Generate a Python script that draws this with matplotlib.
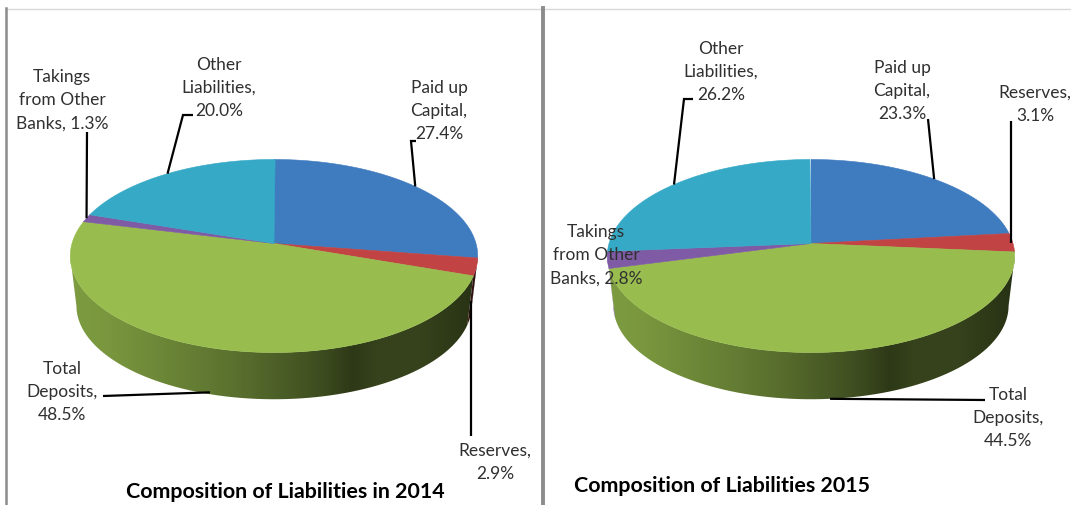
import numpy as np
from matplotlib import pyplot as plt
from matplotlib.patches import Polygon

plt.rcParams['font.family'] = ['Lato', 'DejaVu Sans']

categories = ["Paid up Capital", "Reserves", "Total Deposits", "Takings from Other Banks", "Other Liabilities"]
values_2014 = [27.4, 2.9, 48.5, 1.3, 20.0]
values_2015 = [23.3, 3.1, 44.5, 2.8, 26.2]
title_2014 = "Composition of Liabilities in 2014"
title_2015 = "Composition of Liabilities 2015"

colors = ["#3F7BBF", "#C24343", "#98BD4E", "#7F5BA6", "#35A9C6"]
# shading of the pie wall, left to right
shade_pos = [0.0, 0.09, 0.32, 0.42, 0.51, 0.62, 0.69, 0.75, 0.86, 1.0]
shade_val = [0.82, 0.80, 0.65, 0.58, 0.50, 0.40, 0.30, 0.35, 0.35, 0.26]

CY = 244.5
B = 202.0
A = 94.9
K = 0.1295
DEPTH = 50
SHRINK = 0.97
VIS_LO, VIS_HI = 97.5, 262.5


def project(cx, deg, scale=1.0, depth=0):
    # deg is clockwise from 12 o'clock
    t = np.radians(90 - np.asarray(deg, dtype=float))
    c, s = np.cos(t), np.sin(t)
    x = cx + scale * B * c / (1 + K * s)
    y = CY - scale * A * s / (1 + K * s) + depth
    return x, y


def draw_pie(ax, cx, values):
    edges = np.cumsum([0] + list(values)) * 3.6
    left, right = cx - 204, cx + 205
    xs = np.linspace(left, right, 500)
    shade = np.interp((xs - left) / (right - left), shade_pos, shade_val)
    # wall
    for i, col in enumerate(colors):
        lo, hi = max(edges[i], VIS_LO), min(edges[i + 1], VIS_HI)
        if hi <= lo:
            continue
        a = np.linspace(lo, hi, 80)
        x1, y1 = project(cx, a)
        x2, y2 = project(cx, a[::-1], SHRINK, DEPTH)
        poly = Polygon(np.column_stack([np.r_[x1, x2], np.r_[y1, y2]]), closed=True,
                       facecolor='none', edgecolor='none', transform=ax.transData)
        ax.add_patch(poly)
        rgb = np.array(plt.matplotlib.colors.to_rgb(col))
        img = np.outer(shade, rgb).reshape(1, len(xs), 3)
        im = ax.imshow(img, extent=(left, right, 420, 230), aspect='auto', zorder=2, interpolation='bilinear')
        im.set_clip_path(poly)
    # top
    for i, col in enumerate(colors):
        a = np.linspace(edges[i], edges[i + 1], 120)
        x, y = project(cx, a)
        pts = np.column_stack([np.r_[cx, x], np.r_[CY, y]])
        ax.add_patch(Polygon(pts, closed=True, facecolor=col, edgecolor=col, lw=0.4, zorder=3))
    return (edges[:-1] + edges[1:]) / 2


def leader(ax, xs, ys):
    ax.plot(xs, ys, color='black', lw=1.6, zorder=4, solid_capstyle='butt', solid_joinstyle='miter')


fig = plt.figure(figsize=(10.71, 5.06), dpi=100)
ax = fig.add_axes([0, 0, 1, 1])

mid14 = draw_pie(ax, 274, values_2014)
mid15 = draw_pie(ax, 811, values_2015)

# frame lines
ax.plot([6, 1071], [9.5, 9.5], color='#d9d9d9', lw=1.0, zorder=1)
ax.plot([6, 6], [9, 506], color='#8c8c8c', lw=1.8, zorder=1)
ax.plot([543, 543], [9, 506], color='#8c8c8c', lw=2.8, zorder=1)

# leaders 2014
x, y = project(274, mid14[0]); leader(ax, [x, 411, 416], [y, 142, 142])
x, y = project(274, mid14[1], SHRINK, DEPTH * 0.7); leader(ax, [471, 471], [y, 437])
x, y = project(274, mid14[2], SHRINK, DEPTH); leader(ax, [x - 1, 103], [y - 2, 397])
x, y = project(274, mid14[3]); leader(ax, [x, 87], [y, 133])
x, y = project(274, mid14[4]); leader(ax, [x, 183, 193], [y, 116, 116])
# leaders 2015
x, y = project(811, mid15[0]); leader(ax, [x, 928], [y, 120])
x, y = project(811, mid15[1]); leader(ax, [1011, 1011], [y, 122])
x, y = project(811, mid15[2], SHRINK, DEPTH); leader(ax, [x, 985], [y, 401])
x, y = project(811, mid15[4]); leader(ax, [x, 684, 693], [y, 100, 100])

labels = [
    (219, 88, "Other\nLiabilities,\n20.0%"),
    (62, 100, "Takings\nfrom Other\nBanks, 1.3%"),
    (439, 111, "Paid up\nCapital,\n27.4%"),
    (495, 462, "Reserves,\n2.9%"),
    (62, 392, "Total\nDeposits,\n48.5%"),
    (721, 72, "Other\nLiabilities,\n26.2%"),
    (902, 91, "Paid up\nCapital,\n23.3%"),
    (1035, 104, "Reserves,\n3.1%"),
    (596, 255, "Takings\nfrom Other\nBanks, 2.8%"),
    (1008, 418, "Total\nDeposits,\n44.5%"),
]
for lx, ly, txt in labels:
    ax.text(lx, ly, txt, ha='center', va='center', fontsize=12.5, color='#303030',
            linespacing=1.55, zorder=5)

ax.text(285, 492, title_2014, ha='center', va='center', fontsize=15.4, fontweight='bold', color='black', zorder=5)
ax.text(722, 486, title_2015, ha='center', va='center', fontsize=15.4, fontweight='bold', color='black', zorder=5)

ax.set_xlim(0, 1071)
ax.set_ylim(506, 0)
ax.axis('off')
fig.savefig('out.png', dpi=100)
